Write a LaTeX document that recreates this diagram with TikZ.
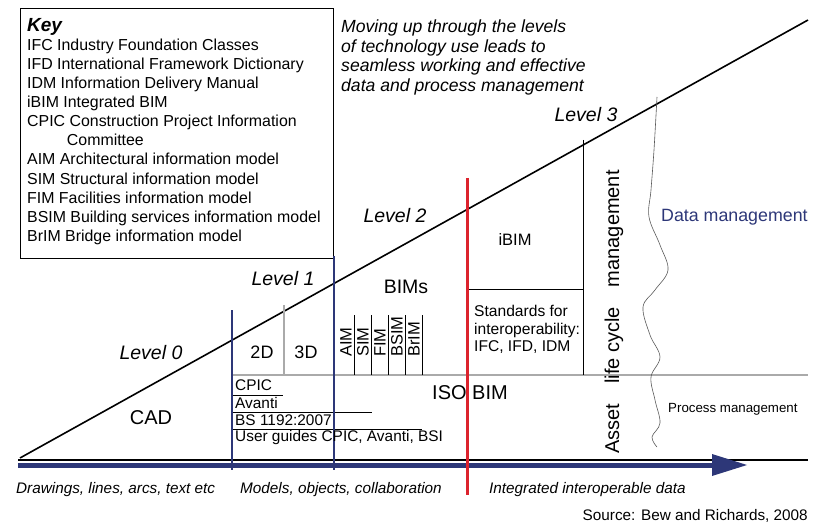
\documentclass[tikz,border=0pt]{standalone}
\usepackage{fontspec}
\setmainfont{Liberation Sans}
\begin{document}
\begin{tikzpicture}[x=1pt,y=-1pt,
  txt/.style={inner sep=0pt,font=\fontsize{16.5}{18}\selectfont},
  lvl/.style={txt,font=\fontsize{19.5}{21}\selectfont\itshape},
  bot/.style={txt,font=\fontsize{15.3}{17}\selectfont\itshape,anchor=west},
  navy/.style={draw=blueN,line width=2.5pt},
  thin/.style={draw=black,line width=0.6pt}]
\definecolor{blueN}{RGB}{45,55,120}
\definecolor{redR}{RGB}{220,35,45}
\definecolor{grayL}{RGB}{170,170,170}
\useasboundingbox (0,0) rectangle (823,532);
% key box
\node[draw,line width=0.8pt,minimum width=313pt,minimum height=250pt,anchor=north west,inner sep=0pt] (key) at (20,8) {};
\node[txt,anchor=north west,align=left,font=\fontsize{15.9}{19.1}\selectfont] (keytxt) at (27,18) {{\fontsize{19}{19}\selectfont\bfseries\itshape Key}\\
IFC Industry Foundation Classes\\
IFD International Framework Dictionary\\
IDM Information Delivery Manual\\
iBIM Integrated BIM\\
CPIC Construction Project Information\\
\hspace{2.5em}Committee\\
AIM Architectural information model\\
SIM Structural information model\\
FIM Facilities information model\\
BSIM Building services information model\\
BrIM Bridge information model};
\node[txt,anchor=north west,align=left,font=\fontsize{17.6}{19.4}\selectfont\itshape] (top) at (341,20) {Moving up through the levels\\of technology use leads to\\seamless working and effective\\data and process management};
% main lines
\coordinate (d0) at (20,458); \coordinate (d1) at (808,20);
\draw[line width=1.6pt] (d0) -- (d1);
\coordinate (b0) at (18,460); \coordinate (b1) at (808,460);
\draw[line width=1.6pt] (b0) -- (b1);
\coordinate (g0) at (232,375); \coordinate (g1) at (808,375);
\draw[grayL,line width=1.5pt] (g0) -- (g1);
% blue arrow
\coordinate (a0) at (18,465); \coordinate (a1) at (720,465);
\draw[blueN,line width=5pt] (a0) -- (a1);
\fill[blueN] (712,454) -- (747,465) -- (712,476) -- cycle;
% verticals
\draw[grayL,line width=1.5pt] (284,305) -- (284,375);
\foreach \x in {354,371,388,405,422} \draw[thin] (\x,315) -- (\x,375);
\draw[thin] (583,140) -- (583,375);
\draw[thin] (467,289) -- (583,289);
\draw[thin] (232,395) -- (283,395);
\draw[thin] (232,412) -- (372,412);
\draw[thin] (232,429) -- (422,429);
\draw[navy] (232,310) -- (232,470);
\draw[navy] (334,256) -- (334,470);
\draw[redR,line width=3pt] (467,178) -- (467,495);
% wiggle
\draw[gray!70!black,line width=0.6pt] plot[smooth,tension=0.6] coordinates {(657,97) (654,150) (651,190) (649,217) (660,245) (668,270) (655,290) (643,307) (650,335) (660,357) (651,377) (655,400) (660,423) (652,437) (657,447)};
% labels
\node[lvl] (l0) at (151,353) {Level 0};
\node[lvl] (l1) at (283,279) {Level 1};
\node[lvl] (l2) at (395,216) {Level 2};
\node[lvl] (l3) at (586,115) {Level 3};
\node[txt,font=\fontsize{20}{22}\selectfont] (cad) at (151,418) {CAD};
\node[txt,font=\fontsize{18}{20}\selectfont] (d2) at (262,352) {2D};
\node[txt,font=\fontsize{18}{20}\selectfont] (d3) at (306,352) {3D};
\node[txt,font=\fontsize{19.5}{21}\selectfont] (bims) at (406,287) {BIMs};
\foreach \t/\x in {AIM/346,SIM/363,FIM/380,BSIM/397,BrIM/414}
  \node[txt,rotate=90,anchor=west] (\t) at (\x,357) {\t};
\node[txt] (ibim) at (515,240) {iBIM};
\node[txt,align=left,anchor=north west,font=\fontsize{15.6}{17.5}\selectfont] (std) at (474,305) {Standards for\\interoperability:\\IFC, IFD, IDM};
\node[txt,font=\fontsize{20}{22}\selectfont] (iso) at (470,393) {ISO BIM};
\node[txt,anchor=west,font=\fontsize{15.4}{17}\selectfont] (cpic) at (235,385) {CPIC};
\node[txt,anchor=west,font=\fontsize{15.4}{17}\selectfont] (avanti) at (235,403) {Avanti};
\node[txt,anchor=west,font=\fontsize{15.4}{17}\selectfont] (bs) at (235,420) {BS 1192:2007};
\node[txt,anchor=west,font=\fontsize{15.4}{17}\selectfont] (ug) at (235,438) {User guides CPIC, Avanti, BSI};
\node[txt,rotate=90,font=\fontsize{20}{22}\selectfont] (alm) at (614,312) {Asset\quad life cycle\quad management};
\node[txt,anchor=west,text=blueN,font=\fontsize{17.8}{19}\selectfont] (dm) at (661,217) {Data management};
\node[txt,anchor=west,font=\fontsize{13.3}{15}\selectfont] (pm) at (668,409) {Process management};
\node[bot] (bt1) at (16,490) {Drawings, lines, arcs, text etc};
\node[bot] (bt2) at (240,490) {Models, objects, collaboration};
\node[bot] (bt3) at (489,490) {Integrated interoperable data};
\node[txt,anchor=east,font=\fontsize{15.3}{17}\selectfont] (src) at (808,516) {Source: Bew and Richards, 2008};
\end{tikzpicture}
\end{document}
